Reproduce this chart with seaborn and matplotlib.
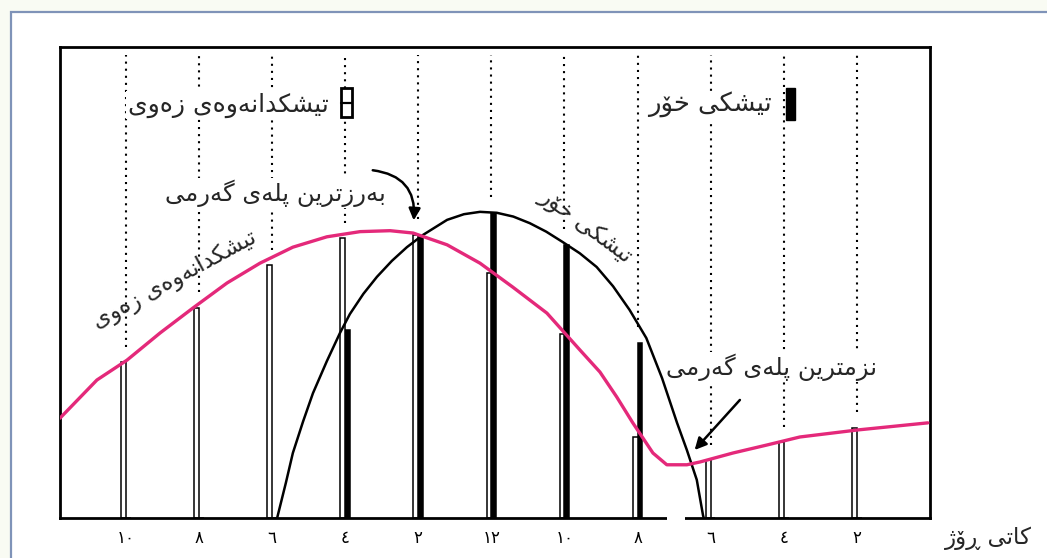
import matplotlib
matplotlib.use("Agg")
import matplotlib.pyplot as plt
import seaborn as sns
import pandas as pd
from matplotlib.patches import Rectangle

# ---------------- data ----------------
hours = [22, 20, 18, 16, 14, 12, 10, 8, 6, 4, 2]
tick_labels = ["١٠", "٨", "٦", "٤", "٢", "١٢", "١٠", "٨", "٦", "٤", "٢"]
earth_bar = [33.1, 44.6, 53.7, 59.4, 60.1, 52.0, 39.1, 17.2, 12.3, 16.1, 19.1]
sun_bar = [0, 0, 0, 39.9, 59.9, 64.8, 58.0, 37.2, 0, 0, 0]

earth_curve_h = [23.80, 22.79, 21.97, 21.06, 20.16, 19.23, 18.33, 17.43, 16.50,
                 15.59, 14.77, 14.14, 13.21, 12.31, 11.41, 10.48, 9.58, 9.03,
                 8.57, 8.13, 7.58, 7.20, 6.65, 6.29, 5.39, 4.46, 3.56, 1.97, 0.06]
earth_curve_v = [21.2, 29.3, 33.5, 39.3, 44.6, 49.9, 54.1, 57.5, 59.7,
                 60.8, 61.0, 60.5, 58.0, 54.1, 49.0, 43.5, 35.7, 31.0,
                 25.7, 20.2, 13.8, 11.3, 11.3, 11.9, 13.8, 15.5, 17.2, 18.7, 20.2]

sun_curve_h = [17.86, 17.62, 17.43, 17.15, 16.88, 16.50, 16.14, 15.87, 15.50,
               15.13, 14.72, 14.31, 13.87, 13.21, 12.75, 12.31, 11.85, 11.40,
               10.95, 10.50, 10.05, 9.58, 9.12, 8.67, 8.22, 7.76, 7.33, 6.92,
               6.65, 6.38, 6.21, 6.19]
sun_curve_v = [0.0, 7.5, 13.8, 20.5, 26.5, 33.3, 39.3, 43.3, 47.6,
               51.2, 54.6, 57.5, 60.1, 63.3, 64.5, 65.0, 64.8, 64.0,
               62.6, 60.8, 58.6, 56.2, 53.3, 49.2, 44.2, 38.2, 29.7, 20.2,
               14.4, 8.1, 0.6, 0.0]

label_earth = "تیشکدانەوەی زەوی"
label_sun = "تیشکی خۆر"
label_max = "بەرزترین پلەی گەرمی"
label_min = "نزمترین پلەی گەرمی"
label_x = "کاتی ڕۆژ"

# ---------------- minimal Arabic-script shaping for display ----------------
DUAL = {
    "\u0628": ("\uFE8F", "\uFE90", "\uFE91", "\uFE92"),
    "\u067E": ("\uFB56", "\uFB57", "\uFB58", "\uFB59"),
    "\u062A": ("\uFE95", "\uFE96", "\uFE97", "\uFE98"),
    "\u062E": ("\uFEA5", "\uFEA6", "\uFEA7", "\uFEA8"),
    "\u0634": ("\uFEB5", "\uFEB6", "\uFEB7", "\uFEB8"),
    "\u0644": ("\uFEDD", "\uFEDE", "\uFEDF", "\uFEE0"),
    "\u0645": ("\uFEE1", "\uFEE2", "\uFEE3", "\uFEE4"),
    "\u0646": ("\uFEE5", "\uFEE6", "\uFEE7", "\uFEE8"),
    "\u06A9": ("\uFB8E", "\uFB8F", "\uFB90", "\uFB91"),
    "\u06AF": ("\uFB92", "\uFB93", "\uFB94", "\uFB95"),
    "\u06CC": ("\uFBFC", "\uFBFD", "\uFBFE", "\uFBFF"),
}
RIGHT = {
    "\u0627": ("\uFE8D", "\uFE8E"),
    "\u062F": ("\uFEA9", "\uFEAA"),
    "\u0631": ("\uFEAD", "\uFEAE"),
    "\u0632": ("\uFEAF", "\uFEB0"),
    "\u0648": ("\uFEED", "\uFEEE"),
    "\u0698": ("\uFB8A", "\uFB8B"),
    "\u06C6": ("\uFBD9", "\uFBDA"),
    "\u06D5": ("\u06D5", "\uFEEA"),
    "\u0695": ("\u0695", "\u0695"),
}


def shape(s):
    s = s.replace("\u064A", "\u06CC").replace("\u0643", "\u06A9")
    out = []
    for i, c in enumerate(s):
        prev = s[i - 1] if i > 0 else ""
        nxt = s[i + 1] if i + 1 < len(s) else ""
        jp = prev in DUAL and (c in DUAL or c in RIGHT)
        if c in DUAL:
            jn = nxt in DUAL or nxt in RIGHT
            f = DUAL[c]
            out.append(f[3] if (jp and jn) else f[1] if jp else f[2] if jn else f[0])
        elif c in RIGHT:
            out.append(RIGHT[c][1] if jp else RIGHT[c][0])
        else:
            out.append(c)
    return "".join(out)[::-1]


# ---------------- figure ----------------
sns.set_style("white")
plt.rcParams["font.family"] = ["DejaVu Sans"]

W, H = 1047, 558
fig = plt.figure(figsize=(W / 100, H / 100), dpi=100, facecolor="#f9fbf3")
fig.patches.append(Rectangle((11 / W, -0.2), 1.2, 1.2 - 12 / H,
                             transform=fig.transFigure, facecolor="white",
                             edgecolor="#7f93b8", linewidth=1.6, zorder=-5))

ax = fig.add_axes([60 / W, 40 / H, 870 / W, 471 / H])
ax.set_facecolor("white")

PINK = "#e4297a"

df = pd.DataFrame({
    "hour": hours * 2,
    "value": earth_bar + sun_bar,
    "kind": ["earth"] * len(hours) + ["sun"] * len(hours),
})

sns.barplot(data=df, x="hour", y="value", hue="kind", hue_order=["sun", "earth"],
            palette={"earth": "white", "sun": "black"}, native_scale=True,
            width=0.13, dodge=True, edgecolor="black", linewidth=1.1,
            errorbar=None, legend=False, ax=ax, zorder=2)

sns.lineplot(x=earth_curve_h, y=earth_curve_v, color=PINK, linewidth=2.4,
             ax=ax, zorder=4, sort=False)
sns.lineplot(x=sun_curve_h, y=sun_curve_v, color="black", linewidth=1.8,
             ax=ax, zorder=3, sort=False)

# dotted guide lines above each bar pair
for h, e, s in zip(hours, earth_bar, sun_bar):
    ax.vlines(h, max(e, s) + 3.3, 98.3, colors="black", linewidth=1.5,
              linestyles=(0, (1, 2.4)), zorder=1)

ax.set_xlim(23.8, 0.0)
ax.set_ylim(0, 100)
ax.set_xticks(hours)
ax.set_xticklabels(tick_labels, fontsize=12)
ax.set_yticks([])
ax.set_xlabel("")
ax.set_ylabel("")
ax.tick_params(axis="x", length=0, pad=8, colors="black")
for sp in ax.spines.values():
    sp.set_color("black")
    sp.set_linewidth(2.0)
    sp.set_visible(True)

# small gap in the bottom axis line
ax.plot([7.2, 6.7], [0, 0], color="white", linewidth=4, clip_on=False,
        zorder=6, solid_capstyle="butt")

# legend entries
ax.add_patch(Rectangle((16.11, 85.1), -0.30, 6.2, facecolor="white",
                       edgecolor="black", linewidth=2.0, clip_on=False, zorder=5))
ax.plot([16.11, 15.81], [88.2, 88.2], color="black", linewidth=1.6, zorder=6)
ax.text(16.45, 87.6, shape(label_earth), ha="right", va="center", fontsize=18,
        zorder=5, bbox=dict(facecolor="white", edgecolor="none", pad=1))

ax.add_patch(Rectangle((3.94, 84.5), -0.26, 6.8, facecolor="black",
                       edgecolor="black", linewidth=1.0, clip_on=False, zorder=5))
ax.text(4.33, 87.6, shape(label_sun), ha="right", va="center", fontsize=18.5,
        zorder=5, bbox=dict(facecolor="white", edgecolor="none", pad=1))

# annotations
ax.text(17.92, 69.0, shape(label_max), ha="center", va="center", fontsize=17.5,
        zorder=5, bbox=dict(facecolor="white", edgecolor="none", pad=1))
ax.annotate("", xy=(14.13, 62.6), xytext=(15.32, 73.9),
            arrowprops=dict(arrowstyle="-|>,head_length=0.7,head_width=0.35",
                            color="black", lw=1.8,
                            connectionstyle="arc3,rad=-0.5"), zorder=6)

ax.text(4.33, 32.1, shape(label_min), ha="center", va="center", fontsize=17.5,
        zorder=5, bbox=dict(facecolor="white", edgecolor="none", pad=1))
ax.annotate("", xy=(6.49, 14.0), xytext=(5.15, 25.5),
            arrowprops=dict(arrowstyle="-|>,head_length=0.7,head_width=0.35",
                            color="black", lw=1.8), zorder=6)

# labels along the curves
ax.text(20.65, 50.5, shape(label_earth), ha="center", va="center", fontsize=16.5,
        rotation=28.5, rotation_mode="anchor", zorder=5)
ax.text(9.42, 62.0, shape(label_sun), ha="center", va="center", fontsize=16.5,
        rotation=-36.5, rotation_mode="anchor", zorder=5)

fig.text(988 / W, 1 - 538 / H, shape(label_x), ha="center", va="center",
         fontsize=16.5)

fig.savefig("out.png", dpi=100, facecolor=fig.get_facecolor())
